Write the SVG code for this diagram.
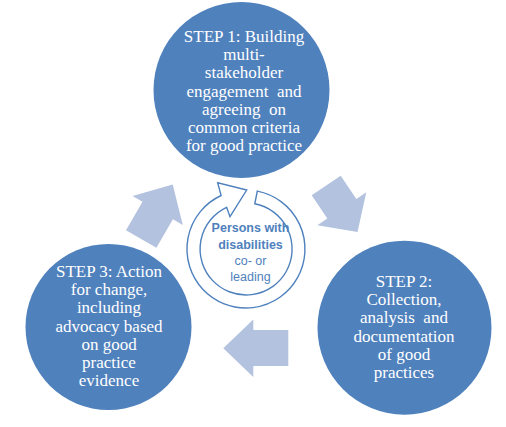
<svg xmlns="http://www.w3.org/2000/svg" xmlns:xlink="http://www.w3.org/1999/xlink" width="506" height="427" viewBox="0 0 506 427">
<style>
.step{fill:#4F81BD;}
.st{font-family:"Liberation Serif","Times New Roman",serif;font-size:17px;fill:#FFFFFF;text-anchor:middle;}
.blk{fill:#B3C2DE;}
.ring{fill:#FFFFFF;stroke:#4F81BD;stroke-width:1.4;stroke-linejoin:miter;}
.ct{font-family:"Liberation Sans",Arial,sans-serif;font-size:12.5px;fill:#4F81BD;text-anchor:middle;}
.ctb{font-weight:bold;}
</style>
<rect width="506" height="427" fill="#FFFFFF"/>
<g id="step1">
<circle class="step" cx="241.5" cy="90" r="88"/>
<text class="st"><tspan x="244" y="42">STEP 1: Building</tspan><tspan x="244" y="60.2">multi-</tspan><tspan x="244" y="78.4">stakeholder</tspan><tspan x="244" y="96.6">engagement&#160; and</tspan><tspan x="244" y="114.8">agreeing&#160; on</tspan><tspan x="244" y="133">common criteria</tspan><tspan x="244" y="151.2">for good practice</tspan></text>
</g>
<g id="step2">
<circle class="step" cx="404.5" cy="327.7" r="87"/>
<text class="st"><tspan x="404" y="287">STEP 2:</tspan><tspan x="404" y="305.2">Collection,</tspan><tspan x="404" y="323.4">analysis&#160; and</tspan><tspan x="404" y="341.6">documentation</tspan><tspan x="404" y="359.8">of good</tspan><tspan x="404" y="378">practices</tspan></text>
</g>
<g id="step3">
<circle class="step" cx="108.5" cy="327" r="83"/>
<text class="st"><tspan x="109" y="277">STEP 3: Action</tspan><tspan x="109" y="295.2">for change,</tspan><tspan x="109" y="313.4">including</tspan><tspan x="109" y="331.6">advocacy based</tspan><tspan x="109" y="349.8">on good</tspan><tspan x="109" y="368">practice</tspan><tspan x="109" y="386.2">evidence</tspan></text>
</g>
<g id="connectors">
<polygon class="blk" points="340.7,175.7 356.4,198.9 366.3,192.2 357.5,231.9 317.4,225.2 327.3,218.5 311.7,195.3"/>
<polygon class="blk" points="288.3,330 253.3,330 253.3,319.5 223.3,348.3 253.3,377 253.3,366 288.3,366"/>
<polygon class="blk" points="126,230.3 142.5,201.7 132.6,195.9 172.7,184.4 182.8,224.9 172.9,219.2 156.4,247.8"/>
</g>
<g id="center">
<path class="ring" d="M257.3,191.1 A59,59 0 1 1 221.1,195.5 L217.7,182.7 L246.7,190 L230,216.7 L226.6,207.3 A46,46 0 1 0 254.8,203.8 Z"/>
<text class="ct"><tspan class="ctb" x="250.5" y="232">Persons with</tspan><tspan class="ctb" x="250.5" y="248.5">disabilities</tspan><tspan x="250.5" y="265">co- or</tspan><tspan x="250.5" y="281">leading</tspan></text>
</g>
</svg>
